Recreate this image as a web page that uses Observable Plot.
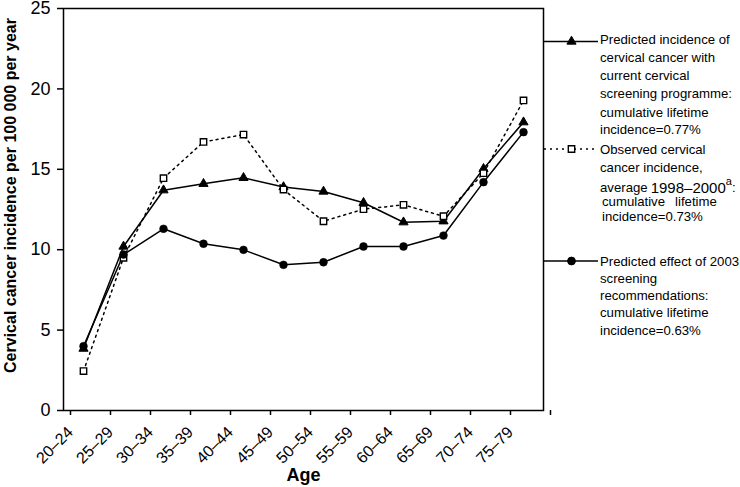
<!DOCTYPE html>
<html>
<head>
<meta charset="utf-8">
<script src="https://cdn.jsdelivr.net/npm/d3@7"></script>
<script src="https://cdn.jsdelivr.net/npm/@observablehq/plot@0.6"></script>
<style>
  html, body { margin: 0; padding: 0; background: #fff; }
  #wrap { position: relative; width: 740px; height: 487px; overflow: hidden; font-family: "Liberation Sans", Arial, Helvetica, sans-serif; }
  #wrap > svg { position: absolute; left: 0; top: 0; }
</style>
</head>
<body>
<div id="wrap"></div>
<script>
// ---- data ----
const ages = ["20–24","25–29","30–34","35–39","40–44","45–49","50–54","55–59","60–64","65–69","70–74","75–79"];
const predictedCurrent = [3.85, 10.2, 13.7, 14.1, 14.47, 13.9, 13.62, 12.92, 11.71, 11.77, 15.03, 17.93];
const observed = [2.45, 9.5, 14.45, 16.7, 17.16, 13.74, 11.77, 12.52, 12.79, 12.08, 14.76, 19.28];
const predicted2003 = [4.0, 9.7, 11.3, 10.37, 9.99, 9.06, 9.22, 10.2, 10.2, 10.88, 14.2, 17.31];
const yTicks = [0, 5, 10, 15, 20, 25];
const yLabel = "Cervical cancer incidence per 100 000 per year";
const xLabel = "Age";

const data = ages.map((age, i) => ({
  i, age,
  current: predictedCurrent[i],
  observed: observed[i],
  rec2003: predicted2003[i]
}));
// band edges: ticks sit between age groups, labels at the left edge of each group
const xTicks = ages.map((_, i) => i - 0.5).concat([ages.length - 0.5]);

const font = "'Liberation Sans', Arial, Helvetica, sans-serif";

const chart = Plot.plot({
  width: 740,
  height: 487,
  marginLeft: 63,
  marginRight: 197,
  marginTop: 8,
  marginBottom: 77,
  style: { fontFamily: font, color: "black", background: "white", overflow: "visible" },
  x: { type: "linear", domain: [-0.5, ages.length - 0.5], axis: null },
  y: { domain: [0, 25], axis: null },
  marks: [
    Plot.frame({ stroke: "black", strokeWidth: 1.5 }),
    Plot.axisY({ ticks: yTicks, tickSize: 6, tickPadding: 7, fontSize: 18, label: null, strokeWidth: 1.5 }),
    Plot.axisX({
      ticks: xTicks,
      tickFormat: (d) => ages[Math.round(d + 0.5)] ?? "",
      tickRotate: -45,
      tickSize: 5,
      tickPadding: 14,
      dx: 7,
      fontSize: 16,
      label: null,
      strokeWidth: 1.5
    }),
    Plot.line(data, { x: "i", y: "observed", stroke: "black", strokeWidth: 1.5, strokeDasharray: "2,4" }),
    Plot.line(data, { x: "i", y: "current", stroke: "black", strokeWidth: 1.5 }),
    Plot.line(data, { x: "i", y: "rec2003", stroke: "black", strokeWidth: 1.5 }),
    Plot.dot(data, { x: "i", y: "current", symbol: "triangle", r: 3.4, fill: "black", stroke: "black", strokeWidth: 1 }),
    Plot.dot(data, { x: "i", y: "observed", symbol: "square", r: 3.6, fill: "white", stroke: "black", strokeWidth: 1.4 }),
    Plot.dot(data, { x: "i", y: "rec2003", symbol: "circle", r: 3.9, fill: "black", stroke: "black", strokeWidth: 0.5 }),
    Plot.text([yLabel], { frameAnchor: "left", textAnchor: "middle", rotate: -90, dx: -53, dy: -14, fontSize: 16, fontWeight: "bold", fill: "black" }),
    Plot.text([xLabel], { frameAnchor: "bottom", dy: 70, fontSize: 18, fontWeight: "bold", fill: "black" })
  ]
});
document.getElementById("wrap").appendChild(chart);

// ---- legend (right of the plot frame) ----
const legendItems = [
  { kind: "triangle", lineY: 41.5, lines: [
      ["Predicted incidence of", 43.5],
      ["cervical cancer with", 61.7],
      ["current cervical", 80],
      ["screening programme:", 98],
      ["cumulative lifetime", 116.5],
      ["incidence=0.77%", 134]
  ]},
  { kind: "square", lineY: 149, lines: [] },
  { kind: "circle", lineY: 261, lines: [
      ["Predicted effect of 2003", 266],
      ["screening", 282.5],
      ["recommendations:", 300],
      ["cumulative lifetime", 317],
      ["incidence=0.63%", 334.5]
  ]}
];

const svg = d3.select("#wrap").append("svg")
  .attr("width", 740).attr("height", 487)
  .style("font-family", font)
  .style("pointer-events", "none");

const x0 = 544, x1 = 598, xm = 571.5, tx = 600;
for (const item of legendItems) {
  const g = svg.append("g");
  g.append("line").attr("x1", x0).attr("x2", x1).attr("y1", item.lineY).attr("y2", item.lineY)
    .attr("stroke", "black").attr("stroke-width", 1.5)
    .attr("stroke-dasharray", item.kind === "square" ? "2,4" : null);
  const sym = item.kind === "triangle" ? d3.symbolTriangle : item.kind === "square" ? d3.symbolSquare : d3.symbolCircle;
  const r = item.kind === "triangle" ? 3.4 : item.kind === "square" ? 3.6 : 3.9;
  g.append("path").attr("d", d3.symbol(sym, r * r * Math.PI)())
    .attr("transform", `translate(${xm},${item.lineY})`)
    .attr("fill", item.kind === "square" ? "white" : "black")
    .attr("stroke", "black").attr("stroke-width", item.kind === "square" ? 1.4 : 1);
  for (const [t, y] of item.lines) {
    g.append("text").attr("x", tx).attr("y", y).attr("font-size", 13.2).text(t);
  }
}
// observed entry text (mixed sizes as in the reference)
const g2 = svg.append("g").attr("font-size", 13.2);
g2.append("text").attr("x", tx).attr("y", 153.5).text("Observed cervical");
g2.append("text").attr("x", tx).attr("y", 171.5).text("cancer incidence,");
const t3 = g2.append("text").attr("x", tx).attr("y", 191.5);
t3.append("tspan").text("average");
t3.append("tspan").attr("font-size", 15).attr("dx", 3).attr("dy", 1).text("1998–2000");
t3.append("tspan").attr("font-size", 11).attr("dy", -8).text("a");
t3.append("tspan").attr("dy", 7).text(":");
const t4 = g2.append("text").attr("x", tx + 2).attr("y", 206);
t4.append("tspan").text("cumulative");
t4.append("tspan").attr("dx", 10).text("lifetime");
g2.append("text").attr("x", tx + 2).attr("y", 220.5).text("incidence=0.73%");
</script>
</body>
</html>
